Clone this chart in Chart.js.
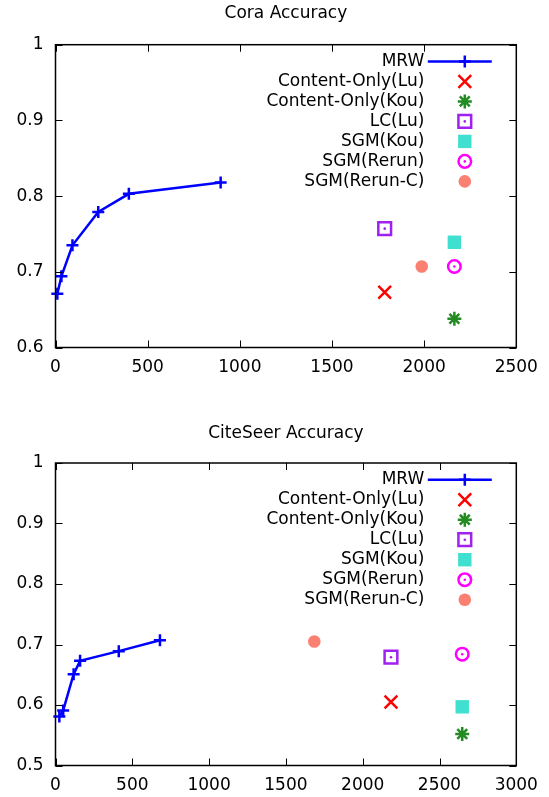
<!DOCTYPE html>
<html lang="en">
<head>
<meta charset="UTF-8">
<title>Cora / CiteSeer Accuracy</title>
<script src="https://cdn.jsdelivr.net/npm/chart.js"></script>
<style>
    body { margin: 0; background: #fff; }
    canvas { display: block; }
</style>
</head>
<body>
<canvas id="coraChart" width="549" height="400"></canvas>
<canvas id="citeseerChart" width="549" height="397"></canvas>

<script>
    // series names (legend order)
    const seriesNames = ['MRW', 'Content-Only(Lu)', 'Content-Only(Kou)', 'LC(Lu)', 'SGM(Kou)', 'SGM(Rerun)', 'SGM(Rerun-C)'];

    // Cora
    const coraMrwX = [10, 32, 92, 232, 398, 896];
    const coraMrwY = [0.671, 0.694, 0.735, 0.779, 0.803, 0.818];
    const coraOtherX = [1786, 2164, 1786, 2164, 2164, 1987];
    const coraOtherY = [0.673, 0.638, 0.757, 0.739, 0.707, 0.707];
    const coraXTicks = [0, 500, 1000, 1500, 2000, 2500];
    const coraYTicks = [0.6, 0.7, 0.8, 0.9, 1];

    // CiteSeer
    const citeMrwX = [25, 50, 118, 160, 412, 680];
    const citeMrwY = [0.581, 0.591, 0.651, 0.673, 0.689, 0.707];
    const citeOtherX = [2184, 2648, 2184, 2648, 2648, 1685];
    const citeOtherY = [0.605, 0.552, 0.679, 0.597, 0.684, 0.705];
    const citeXTicks = [0, 500, 1000, 1500, 2000, 2500, 3000];
    const citeYTicks = [0.5, 0.6, 0.7, 0.8, 0.9, 1];

    // marker looks for the single-point series (gnuplot style)
    const markerStyles = [
        { style: 'crossRot', radius: 9, color: '#ff0000', width: 2.5, fill: false },
        { style: 'star', radius: 7, color: '#228b22', width: 2.5, fill: false },
        { style: 'rect', radius: 9, color: '#a020f0', width: 2.5, fill: false, dot: true },
        { style: 'rect', radius: 9.5, color: '#40e0d0', width: 0, fill: true },
        { style: 'circle', radius: 6.3, color: '#ff00ff', width: 2.5, fill: false, dot: true },
        { style: 'circle', radius: 6.3, color: '#fa8072', width: 0, fill: true }
    ];
    const mrwColor = '#0000ff';
    const FONT = '17px "DejaVu Sans"';

    Chart.defaults.font.family = '"DejaVu Sans"';
    Chart.defaults.font.size = 17;
    Chart.defaults.color = '#000';

    // frame, inward ticks on all four sides, centre dots, legend and title
    const gnuplotLook = {
        id: 'gnuplotLook',
        afterDatasetsDraw(chart, args, opts) {
            const ctx = chart.ctx;
            const a = chart.chartArea;
            const xs = chart.scales.x, ys = chart.scales.y;
            ctx.save();

            // centre dots for hollow square / circle
            chart.data.datasets.forEach((ds, i) => {
                const m = ds.marker;
                if (!m || !m.dot) return;
                chart.getDatasetMeta(i).data.forEach(pt => {
                    ctx.fillStyle = m.color;
                    ctx.beginPath();
                    ctx.arc(pt.x, pt.y, 1.3, 0, Math.PI * 2);
                    ctx.fill();
                });
            });

            // border
            ctx.strokeStyle = '#000';
            ctx.lineWidth = 1.5;
            ctx.strokeRect(a.left, a.top, a.right - a.left, a.bottom - a.top);

            // ticks
            ctx.lineWidth = 1;
            ctx.beginPath();
            opts.xTicks.forEach(v => {
                const px = Math.round(xs.getPixelForValue(v)) + 0.5;
                ctx.moveTo(px, a.bottom); ctx.lineTo(px, a.bottom - 7);
                ctx.moveTo(px, a.top); ctx.lineTo(px, a.top + 7);
            });
            opts.yTicks.forEach(v => {
                const py = Math.round(ys.getPixelForValue(v)) + 0.5;
                ctx.moveTo(a.left, py); ctx.lineTo(a.left + 7, py);
                ctx.moveTo(a.right, py); ctx.lineTo(a.right - 7, py);
            });
            ctx.stroke();

            // legend: right aligned text, sample on the right
            ctx.font = FONT;
            ctx.textAlign = 'right';
            ctx.textBaseline = 'middle';
            const textX = a.right - 92;
            const markX = a.right - 51.5;
            chart.data.datasets.forEach((ds, i) => {
                const y = a.top + 16.7 + i * 20;
                ctx.fillStyle = '#000';
                ctx.fillText(ds.label, textX, y);
                if (i === 0) {
                    ctx.strokeStyle = mrwColor;
                    ctx.lineWidth = 2.5;
                    ctx.beginPath();
                    ctx.moveTo(a.right - 88.5, y);
                    ctx.lineTo(a.right - 24.5, y);
                    ctx.stroke();
                    ctx.fillStyle = mrwColor;
                    Chart.helpers.drawPoint(ctx, { pointStyle: 'cross', radius: 6, rotation: 0, borderWidth: 2.5 }, markX, y);
                } else {
                    const m = ds.marker;
                    ctx.strokeStyle = m.color;
                    ctx.fillStyle = m.fill ? m.color : 'rgba(0,0,0,0)';
                    ctx.lineWidth = m.width;
                    Chart.helpers.drawPoint(ctx, { pointStyle: m.style, radius: m.radius, rotation: 0, borderWidth: m.width }, markX, y);
                    if (m.dot) {
                        ctx.fillStyle = m.color;
                        ctx.beginPath();
                        ctx.arc(markX, y, 1.3, 0, Math.PI * 2);
                        ctx.fill();
                    }
                }
            });

            // title
            ctx.fillStyle = '#000';
            ctx.textAlign = 'center';
            ctx.fillText(opts.title, (a.left + a.right) / 2, opts.titleY);
            ctx.restore();
        }
    };

    function buildChart(canvasId, title, titleY, mrwX, mrwY, otherX, otherY, xTicks, yTicks, padTop, xAxisHeight) {
        const datasets = [{
            label: seriesNames[0],
            data: mrwX.map((x, i) => ({ x: x, y: mrwY[i] })),
            showLine: true,
            borderColor: mrwColor,
            borderWidth: 2.5,
            pointStyle: 'cross',
            pointRadius: 6,
            pointBorderWidth: 2.5,
            pointBorderColor: mrwColor,
            clip: false
        }];
        markerStyles.forEach((m, i) => {
            datasets.push({
                label: seriesNames[i + 1],
                marker: m,
                data: [{ x: otherX[i], y: otherY[i] }],
                pointStyle: m.style,
                pointRadius: m.radius,
                pointBorderWidth: m.width,
                pointBorderColor: m.color,
                pointBackgroundColor: m.fill ? m.color : 'rgba(0,0,0,0)',
                clip: false
            });
        });

        return new Chart(document.getElementById(canvasId), {
            type: 'scatter',
            data: { datasets: datasets },
            options: {
                responsive: false,
                animation: false,
                events: [],
                layout: { padding: { top: padTop, right: 32.7, bottom: 0, left: 0 } },
                plugins: {
                    legend: { display: false },
                    tooltip: { enabled: false },
                    title: { display: false },
                    gnuplotLook: { title: title, titleY: titleY, xTicks: xTicks, yTicks: yTicks }
                },
                scales: {
                    x: {
                        type: 'linear',
                        min: xTicks[0],
                        max: xTicks[xTicks.length - 1],
                        afterBuildTicks: s => { s.ticks = xTicks.map(v => ({ value: v })); },
                        afterFit: s => { s.height = xAxisHeight; },
                        grid: { display: false, drawTicks: false },
                        border: { display: false },
                        ticks: { padding: 10, maxRotation: 0, autoSkip: false, font: { size: 17 }, callback: v => String(v) }
                    },
                    y: {
                        type: 'linear',
                        min: yTicks[0],
                        max: yTicks[yTicks.length - 1],
                        afterBuildTicks: s => { s.ticks = yTicks.map(v => ({ value: v })); },
                        afterFit: s => { s.width = 55.5; },
                        grid: { display: false, drawTicks: false },
                        border: { display: false },
                        ticks: { padding: 12, autoSkip: false, font: { size: 17 }, callback: v => String(+v.toFixed(1)) }
                    }
                }
            },
            plugins: [gnuplotLook]
        });
    }

    buildChart('coraChart', 'Cora Accuracy', 14, coraMrwX, coraMrwY, coraOtherX, coraOtherY, coraXTicks, coraYTicks, 44.7, 52.5);
    buildChart('citeseerChart', 'CiteSeer Accuracy', 33.3, citeMrwX, citeMrwY, citeOtherX, citeOtherY, citeXTicks, citeYTicks, 63, 31.5);
</script>
</body>
</html>
